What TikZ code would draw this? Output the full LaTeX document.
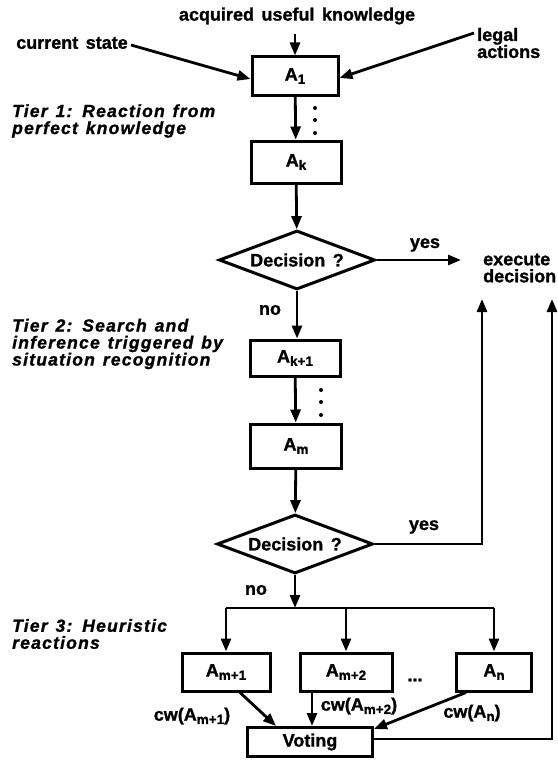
\documentclass[tikz,border=0pt]{standalone}
\usepackage{fontspec}
\usetikzlibrary{arrows.meta,shapes.geometric}
\newfontfamily\dgfont{Liberation Sans Bold}[FakeBold=1.2,WordSpace=1.5]
\newfontfamily\tierfont{Liberation Sans Bold Italic}[FakeBold=1.2,LetterSpace=7,WordSpace=1.3]
\newcommand\lw[1]{\raisebox{-0.35ex}{\fontsize{13.5}{13.5}\selectfont #1}}
\begin{document}
\begin{tikzpicture}[x=1pt,y=-1pt,
  every node/.style={font=\dgfont\fontsize{18}{17}\selectfont, inner sep=0pt},
  twoline/.style={align=left, anchor=west, font=\dgfont\fontsize{18}{17}\selectfont},
  tier/.style={font=\tierfont\fontsize{17.5}{17}\selectfont, align=left, anchor=west},
  abox/.style={draw, line width=3pt, minimum height=#1, align=center},
  dec/.style={draw, line width=3pt, shape=diamond, aspect=2.6, minimum width=156pt, minimum height=59pt},
  conn/.style={line width=2.8pt},
  arr/.style={conn, -{Triangle[length=13pt,width=10pt]}}]
\useasboundingbox (0,0) rectangle (557,760);
% texts
\node (acq) at (297,16) {acquired useful knowledge};
\node (cs) at (72,43) {current state};
\node[twoline] (legal) at (477,43) {legal\\actions};
\node[tier] (tier1) at (12,121) {Tier 1: Reaction from\\perfect knowledge};
\node[tier] (tier2) at (12,344) {Tier 2: Search and\\inference triggered by\\situation recognition};
\node[tier] (tier3) at (12,634) {Tier 3: Heuristic\\reactions};
\node[twoline] (exec) at (483,268) {execute\\decision};
% boxes
\node[abox=38pt, minimum width=86pt] (A1) at (295,76) {A\lw{1}};
\node[abox=42pt, minimum width=90pt] (Ak) at (296,162) {A\lw{k}};
\node[dec] (D1) at (297,260) {Decision ?};
\node[abox=36pt, minimum width=90pt] (Ak1) at (295,358) {A\lw{k+1}};
\node[abox=44pt, minimum width=91pt] (Am) at (296,446) {A\lw{m}};
\node[dec] (D2) at (295,544) {Decision ?};
\node[abox=38pt, minimum width=88pt] (Am1) at (226,672) {A\lw{m+1}};
\node[abox=38pt, minimum width=92pt] (Am2) at (346,672) {A\lw{m+2}};
\node[abox=38pt, minimum width=75pt] (An) at (494,672) {A\lw{n}};
\node[abox=29pt, minimum width=125pt] (Vot) at (310,742) {Voting};
% labels
\node (yes1) at (425,245) {yes};
\node (yes2) at (424,527) {yes};
\node (no1) at (270,310) {no};
\node (no2) at (256,590) {no};
\node (hd) at (415,680) {...};
\node (cw1) at (192,716) {cw(A\lw{m+1})};
\node (cw2) at (359,706) {cw(A\lw{m+2})};
\node (cw3) at (472,713) {cw(A\lw{n})};
% coordinates
\coordinate (y1end) at (461,260);
\coordinate (up1) at (482,299);
\coordinate (up2) at (552,299);
\coordinate (bar) at (295,608);
% dots
\foreach \yy in {108,120,133} \fill (315,\yy) circle (2pt);
\foreach \yy in {390,402,415} \fill (321,\yy) circle (2pt);
% connectors
\draw[arr] (A1.north |- acq.south) ++(0,9) -- (A1.north);
\draw[arr] (cs.east) ++(3,2) -- ([yshift=-3pt]A1.west);
\draw[arr] ([yshift=10pt,xshift=-3pt]legal.west) -- ([yshift=-2pt]A1.east);
\draw[arr] (A1) -- (Ak);
\draw[arr] (Ak) -- (D1);
\draw[arr] (D1.east) -- (y1end);
\draw[arr] (D1.south) -- (D1.south |- Ak1.north);
\draw[arr] (Ak1) -- (Am);
\draw[arr] (Am) -- (D2);
\draw[arr] (D2.east) -- (D2.east -| up1) -- (up1);
\draw[arr] (D2.south) -- (bar);
\draw[conn] (bar -| Am1.north) -- (bar -| An.north);
\draw[arr] (bar -| Am1.north) -- (Am1.north);
\draw[arr] (bar -| Am2.north) -- (Am2.north);
\draw[arr] (bar -| An.north) -- (An.north);
\draw[arr] ([xshift=14pt]Am1.south) -- ([xshift=-34pt]Vot.north);
\draw[arr] ([xshift=-34pt]Am2.south) -- ([xshift=-34pt]Am2.south |- Vot.north);
\draw[arr] ([xshift=-28pt]An.south) -- ([yshift=-3pt]Vot.north east);
\draw[arr] ([yshift=3pt]Vot.east) -- ([yshift=3pt]Vot.east -| up2) -- (up2);
\end{tikzpicture}
\end{document}
